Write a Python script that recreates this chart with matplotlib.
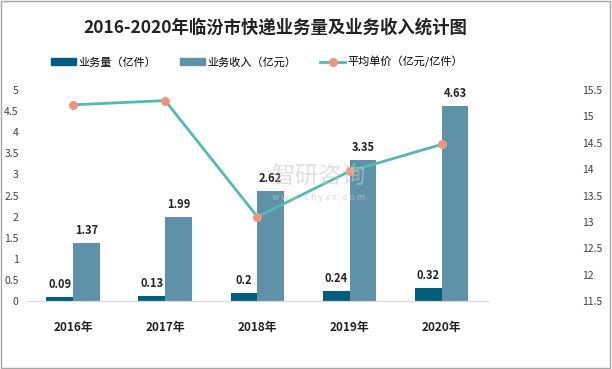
import matplotlib
matplotlib.use("Agg")
from matplotlib import pyplot as plt
from matplotlib.lines import Line2D
from matplotlib.patches import Patch
import numpy as np

plt.rcParams["font.family"] = ["Noto Sans CJK SC", "DejaVu Sans"]

years = ["2016年", "2017年", "2018年", "2019年", "2020年"]
volume = [0.09, 0.13, 0.2, 0.24, 0.32]        # 业务量（亿件）
revenue = [1.37, 1.99, 2.62, 3.35, 4.63]      # 业务收入（亿元）
unit_price = [15.22, 15.3, 13.1, 13.96, 14.47]  # 平均单价

c_vol = "#005f7f"
c_rev = "#5f92a8"
c_line = "#55b9b0"
c_dot = "#ee9580"
c_tick = "#404040"

fig = plt.figure(figsize=(6.12, 3.69), dpi=100)
ax = fig.add_axes([0.044, 0.184, 0.753, 0.572])
ax2 = ax.twinx()

x = np.arange(len(years))
w = 0.29
ax.bar(x - w / 2, volume, w, color=c_vol, zorder=2)
ax.bar(x + w / 2, revenue, w, color=c_rev, zorder=2)

for xi, v in zip(x, volume):
    ax.text(xi - w / 2, v + 0.14, f"{v:g}", ha="center", va="bottom",
            fontsize=8, fontweight="bold", color="#222222", zorder=5)
for xi, v in zip(x, revenue):
    ax.text(xi + w / 2, v + 0.14, f"{v:g}", ha="center", va="bottom",
            fontsize=8, fontweight="bold", color="#222222", zorder=5)

ax2.plot(x, unit_price, color=c_line, lw=2, zorder=3)
ax2.plot(x, unit_price, "o", color=c_dot, ms=5.5, zorder=4)

ax.set_xlim(-0.5, 4.5)
ax.set_ylim(0, 5)
ax.set_yticks(np.arange(0, 5.01, 0.5))
ax.set_yticklabels([f"{t:g}" for t in np.arange(0, 5.01, 0.5)])
ax2.set_ylim(11.5, 15.5)
ax2.set_yticks(np.arange(11.5, 15.51, 0.5))
ax2.set_yticklabels([f"{t:g}" for t in np.arange(11.5, 15.51, 0.5)])

ax.set_xticks(x)
ax.set_xticklabels(years, fontsize=8.5, fontweight="bold", color="#222222")
ax.tick_params(axis="x", length=0, pad=14)
ax.tick_params(axis="y", length=0, labelsize=7.5, labelcolor=c_tick, pad=6)
ax2.tick_params(axis="y", length=0, labelsize=7.5, labelcolor=c_tick, pad=68)

for a in (ax, ax2):
    for s in ("top", "left", "right"):
        a.spines[s].set_visible(False)
    a.spines["bottom"].set_color("#d9d9d9")

fig.text(0.45, 0.925, "2016-2020年临汾市快递业务量及业务收入统计图",
         ha="center", va="center", fontsize=12.5, fontweight="bold", color="#222222")

handles = [
    Patch(color=c_vol),
    Patch(color=c_rev),
    Line2D([0], [0], color=c_line, lw=2, marker="o", ms=5.5,
           markerfacecolor=c_dot, markeredgecolor=c_dot),
]
labels = ["业务量（亿件）", "业务收入（亿元）", "平均单价（亿元/亿件）"]
fig.legend(handles, labels, loc="center", bbox_to_anchor=(0.42, 0.832), ncol=3,
           frameon=False, fontsize=8, handlelength=2.2, handleheight=0.6,
           columnspacing=2.2, handletextpad=0.2)

# watermark
fig.text(0.52, 0.52, "智研咨询", ha="center", va="center", fontsize=17,
         color="#c8c8c8", alpha=0.55, zorder=0)
fig.text(0.52, 0.465, "w w w . c h y x x . c o m", ha="center", va="center",
         fontsize=6.5, color="#c8c8c8", alpha=0.7, zorder=0)

fig.patches.append(plt.Rectangle((0.002, 0.003), 0.994, 0.994, fill=False,
                                 edgecolor="#a6a6a6", lw=1, transform=fig.transFigure))

fig.savefig("out.png", dpi=100)
